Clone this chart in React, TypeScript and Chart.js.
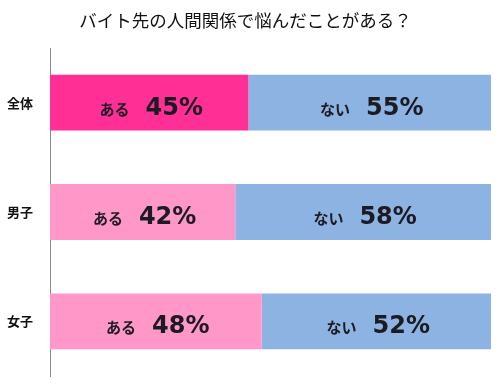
import React, { useEffect, useRef } from "react";
import { Chart, registerables } from "chart.js";

Chart.register(...registerables);

const titleText = "バイト先の人間関係で悩んだことがある？";
const categories = ["全体", "男子", "女子"];
const seriesNames = ["ある", "ない"];
const aruValues = [45, 42, 48];
const naiValues = [55, 58, 52];

const aruColors = ["#FF2F96", "#FF97C9", "#FF97C9"];
const naiColor = "#8DB3E2";
const FONT = "'Noto Sans CJK JP', 'Noto Sans', sans-serif";
const NUM_FONT = "'DejaVu Sans', 'Noto Sans', sans-serif";

const labelPlugin = {
  id: "barLabels",
  afterDatasetsDraw(chart: any) {
    const ctx = chart.ctx;
    chart.data.datasets.forEach((ds: any, di: number) => {
      const meta = chart.getDatasetMeta(di);
      meta.data.forEach((el: any, i: number) => {
        const props = el.getProps(["x", "y", "base"], true);
        const cx = (props.x + props.base) / 2;
        const cy = props.y;
        const name = ds.label as string;
        const val = `${ds.data[i]}%`;
        ctx.save();
        ctx.fillStyle = "#1c1a22";
        ctx.textBaseline = "alphabetic";
        ctx.textAlign = "left";
        ctx.font = `bold 15px ${FONT}`;
        const w1 = ctx.measureText(name).width;
        ctx.font = `bold 24px ${NUM_FONT}`;
        const w2 = ctx.measureText(val).width;
        const gap = 16;
        const total = w1 + gap + w2;
        const x0 = cx - total / 2 + 2;
        ctx.font = `bold 15px ${FONT}`;
        ctx.fillText(name, x0, cy + 12);
        ctx.font = `bold 24px ${NUM_FONT}`;
        ctx.fillText(val, x0 + w1 + gap, cy + 12);
        ctx.restore();
      });
    });
  },
};

export default function App() {
  const ref = useRef<HTMLCanvasElement | null>(null);
  useEffect(() => {
    document.body.style.margin = "0";
    const canvas = ref.current;
    if (!canvas) return;
    const chart = new Chart(canvas, {
      type: "bar",
      data: {
        labels: categories,
        datasets: [
          {
            label: seriesNames[0],
            data: aruValues,
            backgroundColor: aruColors,
            borderWidth: 0,
            barPercentage: 0.51,
            categoryPercentage: 1,
          },
          {
            label: seriesNames[1],
            data: naiValues,
            backgroundColor: naiColor,
            borderWidth: 0,
            barPercentage: 0.51,
            categoryPercentage: 1,
          },
        ],
      },
      options: {
        indexAxis: "y",
        responsive: false,
        animation: false,
        layout: { padding: { left: 0, right: 12, top: 0, bottom: 12 } },
        plugins: {
          legend: { display: false },
          tooltip: { enabled: false },
          title: {
            display: true,
            text: titleText,
            color: "#111",
            font: { size: 17.5, family: FONT, weight: "normal", lineHeight: 1.2 },
            padding: { top: 10, bottom: 17 },
          },
        },
        scales: {
          x: {
            stacked: true,
            display: false,
            min: 0,
            max: 100,
          },
          y: {
            stacked: true,
            grid: { display: false },
            border: { display: true, color: "#8a8a8a", width: 1 },
            ticks: {
              color: "#111",
              padding: 9,
              font: { size: 13, weight: "bold", family: FONT },
            },
            afterFit(scale: any) {
              scale.width = 50;
              scale.paddingTop = 0;
              scale.paddingBottom = 0;
            },
          },
        },
      },
      plugins: [labelPlugin],
    } as any);
    return () => chart.destroy();
  }, []);
  return (
    <div style={{ width: 503, height: 388, background: "#fff" }}>
      <canvas ref={ref} width={503} height={388} style={{ display: "block" }} />
    </div>
  );
}
